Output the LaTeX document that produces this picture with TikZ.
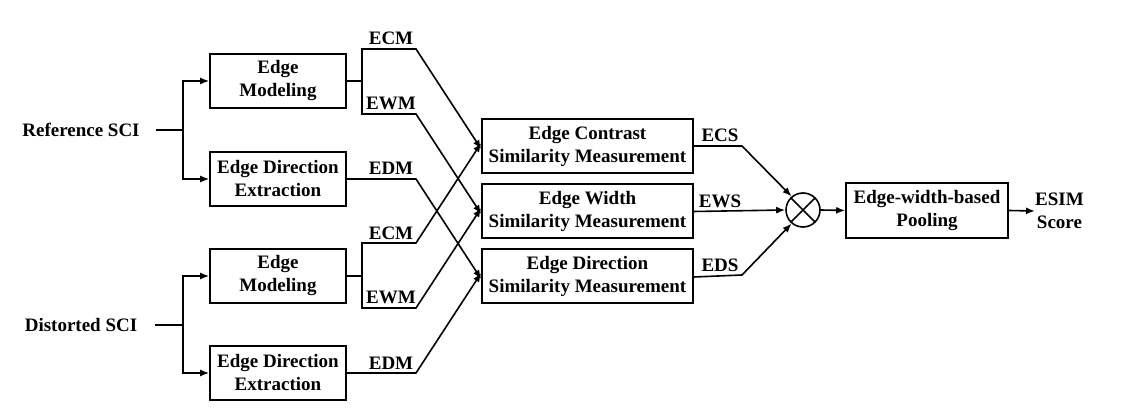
\documentclass[tikz,border=0pt]{standalone}
\usepackage{fontspec}
\setmainfont{Liberation Serif}
\usetikzlibrary{arrows.meta}
\begin{document}
\begin{tikzpicture}[x=1pt,y=-1pt,
  font=\fontsize{19}{23}\selectfont\bfseries,
  box/.style={draw, line width=1.6pt, align=center, inner sep=0pt, minimum height=54pt},
  wire/.style={line width=1.6pt},
  arr/.style={line width=1.6pt, -{Latex[length=9pt,width=7pt]}},
  lbl/.style={inner sep=0pt, align=center}]
\useasboundingbox (0,0) rectangle (1141,411);

% inputs
\node[lbl] (ref) at (81,130) {Reference SCI};
\node[lbl] (dis) at (81,325) {Distorted SCI};

% first stage boxes
\node[box, minimum width=136pt] (em1)  at (278,81)  {Edge\\Modeling};
\node[box, minimum width=136pt] (ede1) at (278,179) {Edge Direction\\Extraction};
\node[box, minimum width=136pt] (em2)  at (278,276) {Edge\\Modeling};
\node[box, minimum width=136pt] (ede2) at (278,373) {Edge Direction\\Extraction};

% similarity boxes
\node[box, minimum width=211pt] (ecs) at (587.5,146) {Edge Contrast\\Similarity Measurement};
\node[box, minimum width=211pt] (ews) at (587.5,211) {Edge Width\\Similarity Measurement};
\node[box, minimum width=211pt] (eds) at (587.5,276) {Edge Direction\\Similarity Measurement};

% product and pooling
\node[circle, draw, line width=1.6pt, minimum size=34pt, inner sep=0pt] (mul) at (803,210) {};
\draw[line width=1.6pt] (mul.north west) -- (mul.south east) (mul.north east) -- (mul.south west);
\node[box, minimum width=162pt, minimum height=55pt] (pool) at (927,210.5) {Edge-width-based\\Pooling};
\node[lbl, anchor=west] (esim) at (1035,211) {ESIM\\Score};

% splitting coordinates
\coordinate (s1) at (183,130);
\coordinate (s2) at (183,325);
\coordinate (m1) at (362,81);
\coordinate (m2) at (362,276);
\coordinate (kcm1) at (416,49);
\coordinate (kwm1) at (416,114);
\coordinate (kdm1) at (416,179);
\coordinate (kcm2) at (416,243);
\coordinate (kwm2) at (416,308);
\coordinate (kdm2) at (416,373);
\coordinate (kcs) at (742,146);
\coordinate (kds) at (742,275);

% input branches
\draw[wire] ([xshift=16pt]ref.east) -- (s1);
\draw[arr] (s1) |- (em1.west);
\draw[arr] (s1) |- (ede1.west);
\draw[wire] ([xshift=18pt]dis.east) -- (s2);
\draw[arr] (s2) |- (em2.west);
\draw[arr] (s2) |- (ede2.west);

% reference outputs
\draw[wire] (em1.east) -- (m1);
\draw[arr] (m1) |- (kcm1) -- ([yshift=-3pt]ecs.west);
\draw[arr] (m1) |- (kwm1) -- ([yshift=-3pt]ews.west);
\draw[arr] (ede1.east) -- (kdm1) -- ([yshift=-3pt]eds.west);

% distorted outputs
\draw[wire] (em2.east) -- (m2);
\draw[arr] (m2) |- (kcm2) -- ([yshift=3pt]ecs.west);
\draw[arr] (m2) |- (kwm2) -- ([yshift=3pt]ews.west);
\draw[arr] (ede2.east) -- (kdm2) -- ([yshift=3pt]eds.west);

% labels
\node[lbl] (lcm1) at (391,38)  {ECM};
\node[lbl] (lwm1) at (391,103) {EWM};
\node[lbl] (ldm1) at (391,168) {EDM};
\node[lbl] (lcm2) at (391,233) {ECM};
\node[lbl] (lwm2) at (391,297) {EWM};
\node[lbl] (ldm2) at (391,363) {EDM};

% similarity outputs
\draw[arr] (ecs.east) -- (kcs) -- (mul.130);
\draw[arr] ([yshift=-0.5pt]ews.east) -- (mul.west);
\draw[arr] ([yshift=-1pt]eds.east) -- (kds) -- (mul.230);
\node[lbl] (lcs) at (720,135) {ECS};
\node[lbl] (lws) at (720,201) {EWS};
\node[lbl] (lds) at (720,265) {EDS};

\draw[arr] (mul.east) -- (pool.west);
\draw[arr] (pool.east) -- (esim.west);
\end{tikzpicture}
\end{document}
